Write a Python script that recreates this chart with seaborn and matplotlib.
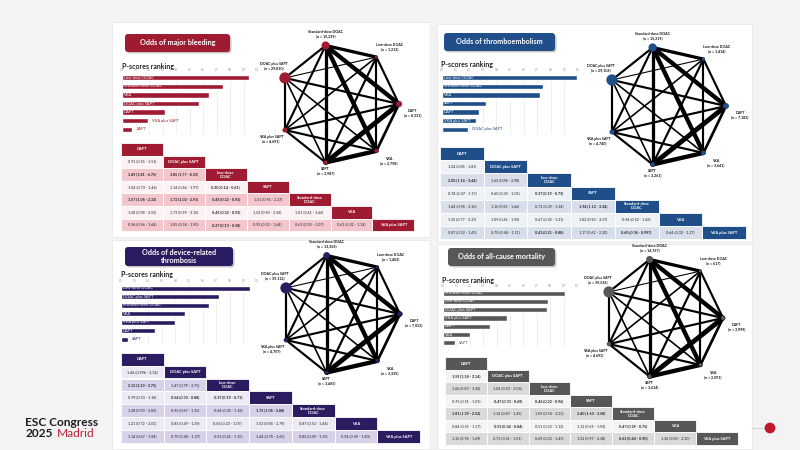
### network meta-analysis slide: four outcomes, p-score bars + network + league table
import numpy as np
import matplotlib
matplotlib.use('Agg')
import matplotlib.pyplot as plt
from matplotlib.patches import Rectangle, FancyBboxPatch
import seaborn as sns

sns.set_theme(style='white')
plt.rcParams['font.family'] = ['Lato', 'DejaVu Sans']

### shared names
headers = ['DAPT', 'DOAC plus SAPT', 'Low-dose\nDOAC', 'SAPT', 'Standard-dose\nDOAC', 'VKA', 'VKA plus SAPT']
net_nodes = ['DAPT', 'VKA', 'SAPT', 'VKA plus SAPT', 'DOAC plus SAPT', 'Standard-dose DOAC', 'Low-dose DOAC']
# edges between network nodes (index into net_nodes) and their drawn weight
edge_a = [5, 5, 5, 5, 5, 5, 6, 6, 6, 6, 6, 0, 0, 0, 0, 1, 1, 1, 2, 2, 3]
edge_b = [6, 0, 1, 2, 3, 4, 0, 1, 2, 3, 4, 1, 2, 3, 4, 2, 3, 4, 3, 4, 4]
edge_w = [3, 4, 4, 3, 2, 2, 2, 2, 2, 1.5, 1, 2.5, 4.5, 2, 2, 4, 2, 1.5, 2, 1.5, 2]

### major bleeding
bleed_labels = ['Low-dose DOAC', 'Standard-dose DOAC', 'VKA', 'DOAC plus SAPT', 'DAPT', 'VKA plus SAPT', 'SAPT']
bleed_scores = [0.94, 0.745, 0.645, 0.57, 0.32, 0.19, 0.077]
bleed_n = [8331, 2798, 2987, 4691, 29810, 15239, 1212]
bleed_league = [
    [],
    ['0.91 (0.55 - 1.51)'],
    ['3.49 (1.81 - 6.75)', '3.85 (1.77 - 8.33)'],
    ['1.04 (0.73 - 1.46)', '1.14 (0.66 - 1.97)', '0.30 (0.14 - 0.61)'],
    ['1.57 (1.06 - 2.33)', '1.72 (1.02 - 2.91)', '0.45 (0.22 - 0.92)', '1.51 (0.96 - 2.37)'],
    ['1.58 (0.98 - 2.55)', '1.73 (0.99 - 3.15)', '0.45 (0.22 - 0.93)', '1.52 (0.90 - 2.58)', '1.01 (0.61 - 1.66)'],
    ['0.96 (0.56 - 1.64)', '1.05 (0.58 - 1.90)', '0.27 (0.13 - 0.58)', '0.93 (0.52 - 1.64)', '0.61 (0.35 - 1.07)', '0.61 (0.32 - 1.14)'],
]

### thromboembolism
embol_labels = ['Low-dose DOAC', 'Standard-dose DOAC', 'VKA', 'SAPT', 'DAPT', 'VKA plus SAPT', 'DOAC plus SAPT']
embol_scores = [0.99, 0.74, 0.72, 0.325, 0.27, 0.25, 0.19]
embol_n = [7182, 3641, 3261, 4740, 29106, 15219, 1414]
embol_league = [
    [],
    ['1.24 (0.85 - 1.81)'],
    ['2.00 (1.16 - 3.44)', '1.62 (0.88 - 2.98)'],
    ['0.74 (0.47 - 1.17)', '0.60 (0.35 - 1.01)', '0.37 (0.19 - 0.73)'],
    ['1.44 (0.96 - 2.16)', '1.16 (0.81 - 1.66)', '0.72 (0.39 - 1.34)', '1.94 (1.12 - 3.34)'],
    ['1.35 (0.77 - 2.37)', '1.09 (0.61 - 1.96)', '0.67 (0.35 - 1.31)', '1.82 (0.93 - 3.57)', '0.94 (0.52 - 1.68)'],
    ['0.87 (0.52 - 1.45)', '0.70 (0.44 - 1.11)', '0.43 (0.21 - 0.88)', '1.17 (0.62 - 2.20)', '0.60 (0.36 - 0.997)', '0.64 (0.32 - 1.27)'],
]

### device-related thrombosis
drt_labels = ['Low-dose DOAC', 'DOAC plus SAPT', 'Standard-dose DOAC', 'VKA', 'VKA plus SAPT', 'DAPT', 'SAPT']
drt_scores = [0.95, 0.72, 0.65, 0.47, 0.40, 0.25, 0.05]
drt_n = [7052, 3335, 3465, 4707, 39112, 13356, 1402]
drt_league = [
    [],
    ['1.46 (0.996 - 2.14)'],
    ['2.15 (1.23 - 3.75)', '1.47 (0.79 - 2.75)'],
    ['0.79 (0.53 - 1.18)', '0.54 (0.33 - 0.88)', '0.37 (0.19 - 0.71)'],
    ['1.38 (0.93 - 2.06)', '0.95 (0.67 - 1.35)', '0.64 (0.35 - 1.18)', '1.75 (1.06 - 2.88)'],
    ['1.21 (0.72 - 2.01)', '0.83 (0.49 - 1.39)', '0.56 (0.30 - 1.07)', '1.53 (0.84 - 2.79)', '0.87 (0.53 - 1.44)'],
    ['1.14 (0.67 - 1.94)', '0.70 (0.40 - 1.27)', '0.53 (0.26 - 1.10)', '1.44 (0.78 - 2.65)', '0.82 (0.49 - 1.39)', '0.94 (0.49 - 1.80)'],
]

### all-cause mortality
mort_labels = ['Standard-dose DOAC', 'Low-dose DOAC', 'DOAC plus SAPT', 'VKA plus SAPT', 'DAPT', 'VKA', 'SAPT']
mort_scores = [0.91, 0.78, 0.775, 0.48, 0.35, 0.20, 0.09]
mort_n = [3999, 2091, 3614, 4693, 39536, 14767, 617]
mort_league = [
    [],
    ['1.59 (1.18 - 2.14)'],
    ['1.66 (0.83 - 3.36)', '1.04 (0.53 - 2.04)'],
    ['0.75 (0.51 - 1.09)', '0.47 (0.33 - 0.69)', '0.46 (0.22 - 0.96)'],
    ['1.81 (1.29 - 2.52)', '1.14 (0.87 - 1.49)', '1.09 (0.54 - 2.22)', '2.40 (1.60 - 3.58)'],
    ['0.84 (0.51 - 1.37)', '0.53 (0.34 - 0.84)', '0.51 (0.23 - 1.12)', '1.12 (0.65 - 1.93)', '0.47 (0.29 - 0.75)'],
    ['1.15 (0.78 - 1.69)', '0.73 (0.51 - 1.01)', '0.69 (0.33 - 1.45)', '1.52 (0.97 - 2.38)', '0.63 (0.44 - 0.90)', '1.36 (0.80 - 2.30)'],
]

### layout / style per panel
panels = [
    dict(title='Odds of major bleeding', color='#9E1B32', light='#FCF1F3', mid='#F3C6CD',
         labels=bleed_labels, scores=bleed_scores, n=bleed_n, league=bleed_league,
         card=(112, 22, 430, 237), tbox=(125, 34, 230, 52), ptitle=(122, 66),
         bars=(122, 257, 73.5, 133.5), net=(339, 104), table=(121, 143, 41.9, 12.6)),
    dict(title='Odds of thromboembolism', color='#1F4E89', light='#EEF1F6', mid='#D8DFEA',
         labels=embol_labels, scores=embol_scores, n=embol_n, league=embol_league,
         card=(437, 24, 752, 241), tbox=(444, 33, 555, 51), ptitle=(441, 65),
         bars=(442, 578, 73.5, 133.5), net=(666, 106), table=(440, 147, 43.7, 13.2)),
    dict(title='Odds of device-related\nthrombosis', color='#2B1B61', light='#EDEAF5', mid='#D7D1EA',
         labels=drt_labels, scores=drt_scores, n=drt_n, league=drt_league,
         card=(112, 240, 430, 449), tbox=(125, 247, 233, 266), ptitle=(121, 275),
         bars=(121, 257, 284, 343.5), net=(340, 314), table=(121, 352.7, 42.7, 12.9)),
    dict(title='Odds of all-cause mortality', color='#575757', light='#F4F4F4', mid='#DADADA',
         labels=mort_labels, scores=mort_scores, n=mort_n, league=mort_league,
         card=(437, 244, 752, 449), tbox=(448, 248, 555, 266), ptitle=(442, 280),
         bars=(443, 577, 289, 347), net=(663, 318), table=(445, 357.3, 41.8, 12.5)),
]
# label offsets around each network node (same order as net_nodes)
node_off = [(14, 9), (12, 10), (0, 9), (-14, 9), (-11, -12), (0, -11), (13, -10)]

fig = plt.figure(figsize=(8, 4.5), dpi=100, facecolor='#F3F3F3')
bg = fig.add_axes([0, 0, 1, 1])
bg.set_xlim(0, 800)
bg.set_ylim(450, 0)
bg.axis('off')


def significant(s):
    lo, hi = s.split('(')[1].rstrip(')').split(' - ')
    return float(hi) < 1 or float(lo) > 1


for p in panels:
    c = p['color']
    x0, y0, x1, y1 = p['card']
    bg.add_patch(Rectangle((x0, y0), x1 - x0, y1 - y0, fc='white', ec='#E6E6E6', lw=0.5, zorder=0))

    # title box with shadow
    tx0, ty0, tx1, ty1 = p['tbox']
    bg.add_patch(FancyBboxPatch((tx0 + 1.5, ty0 + 1.5), tx1 - tx0, ty1 - ty0,
                                boxstyle='round,pad=0,rounding_size=3', fc='#C8C8C8', ec='none', zorder=1))
    bg.add_patch(FancyBboxPatch((tx0, ty0), tx1 - tx0, ty1 - ty0,
                                boxstyle='round,pad=0,rounding_size=3', fc=c, ec='none', zorder=2))
    bg.text((tx0 + tx1) / 2, (ty0 + ty1) / 2, p['title'], color='white', fontsize=5.2,
            fontweight='bold', ha='center', va='center', linespacing=1.1, zorder=3)

    bg.text(p['ptitle'][0], p['ptitle'][1], 'P-scores ranking', fontsize=5, fontweight='bold',
            color='#222222', va='center', zorder=3)

    # p-score bars
    bx0, bx1, by0, by1 = p['bars']
    ax = fig.add_axes([bx0 / 800, 1 - by1 / 450, (bx1 - bx0) / 800, (by1 - by0) / 450])
    sns.barplot(x=p['scores'], y=p['labels'], orient='h', color=c, width=0.62,
                saturation=1, ax=ax)
    ax.set_xlim(0, 1)
    ax.set_xticks(np.arange(0, 1.01, 0.1))
    ax.set_xticklabels(['%.1f' % t for t in np.arange(0, 1.01, 0.1)])
    ax.xaxis.tick_top()
    ax.tick_params(axis='x', labelsize=1.9, length=0, pad=0.8, colors='#8A8A8A')
    ax.set_yticks([])
    ax.set_xlabel('')
    ax.set_ylabel('')
    ax.grid(axis='x', color='#E3E3E3', lw=0.4)
    ax.set_axisbelow(True)
    ax.set_facecolor('none')
    sns.despine(ax=ax, left=True, bottom=True)
    px_per_unit = bx1 - bx0
    for i, (lab, v) in enumerate(zip(p['labels'], p['scores'])):
        if v * px_per_unit > len(lab) * 2.2 + 5:
            ax.text(0.015, i, lab, color='white', fontsize=2.9, va='center')
        else:
            ax.text(v + 0.03, i, lab, color=c, fontsize=2.9, va='center')

    # network
    cx, cy = p['net']
    ang = np.deg2rad(np.arange(7) * 360 / 7)
    nx = cx + 60 * np.cos(ang)
    ny = cy + 60 * np.sin(ang)
    for a, b, w in zip(edge_a, edge_b, edge_w):
        bg.plot([nx[a], nx[b]], [ny[a], ny[b]], color='black', lw=w * 0.78,
                solid_capstyle='round', zorder=3)
    n = np.array(p['n'])
    bg.scatter(nx, ny, s=62 * n / n.max() + 3, color=c, edgecolors='none', zorder=4)
    for k, name in enumerate(net_nodes):
        dx, dy = node_off[k]
        bg.text(nx[k] + dx, ny[k] + dy, '%s\n(n = %s)' % (name, format(p['n'][k], ',')),
                fontsize=2.6, fontweight='bold', ha='center', va='center',
                linespacing=1.15, color='#111111', zorder=5)

    # league table
    lx, ly, cw, ch = p['table']
    for i in range(7):
        y = ly + i * ch
        bg.add_patch(Rectangle((lx + i * cw, y), cw, ch, fc=c, ec='white', lw=0.6, zorder=3))
        bg.text(lx + i * cw + cw / 2, y + ch / 2, headers[i], color='white', fontsize=2.9,
                fontweight='bold', ha='center', va='center', linespacing=1.0, zorder=4)
        for j, s in enumerate(p['league'][i]):
            fc = p['mid'] if i % 2 == 0 else p['light']
            bg.add_patch(Rectangle((lx + j * cw, y), cw, ch, fc=fc, ec='white', lw=0.6, zorder=3))
            bg.text(lx + j * cw + cw / 2, y + ch / 2, s, fontsize=2.7, color='#222222',
                    fontweight='bold' if significant(s) else 'normal',
                    ha='center', va='center', zorder=4)

### congress mark + decoration
bg.text(25, 426, 'ESC Congress', fontsize=8.6, fontweight='bold', color='#1E1E1E', va='baseline')
bg.text(25, 437, '2025', fontsize=8.6, fontweight='bold', color='#1E1E1E', va='baseline')
bg.text(56.5, 437, 'Madrid', fontsize=8.6, color='#B8233A', va='baseline')
bg.plot([752, 765], [428, 428], color='#CFCFCF', lw=0.6, zorder=1)
bg.scatter([770], [428], s=60, color='#C0182A', edgecolors='none', zorder=2)

fig.savefig('out.png', dpi=100, facecolor=fig.get_facecolor())
